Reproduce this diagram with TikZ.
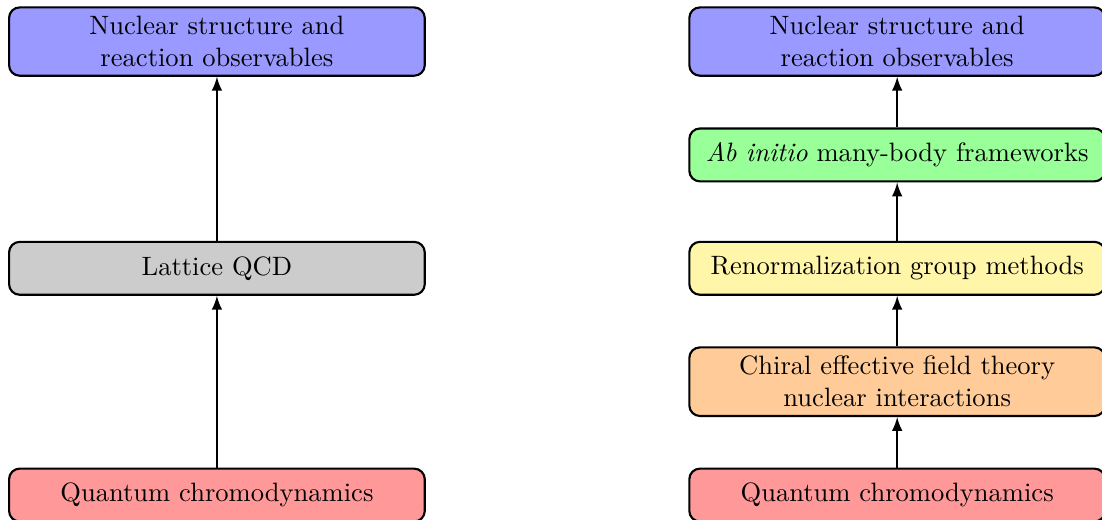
\documentclass[tikz,border=0pt]{standalone}
\usetikzlibrary{arrows}
\definecolor{rgyellow}{RGB}{255,246,170}
\tikzset{
  stage/.style={draw=black, thick, rounded corners, minimum width=5.5cm, minimum height=0.7cm, align=center},
  link/.style={thick, -latex}
}
\begin{document}
\begin{tikzpicture}
\useasboundingbox (-2.87cm,-6.318cm) rectangle (11.71cm,0.55cm);
% left column
\node[stage, fill=blue!40] (obsL) at (0,0) {Nuclear structure and\\reaction observables};
\node[stage, fill=gray!40] (lqcd) at (0,-3) {Lattice QCD};
\node[stage, fill=red!40] (qcdL) at (0,-6) {Quantum chromodynamics};
\draw[link] (qcdL) -- (lqcd);
\draw[link] (lqcd) -- (obsL);
% right column
\node[stage, fill=blue!40] (obsR) at (9,0) {Nuclear structure and\\reaction observables};
\node[stage, fill=green!40] (abin) at (9,-1.5) {\textit{Ab initio} many-body frameworks};
\node[stage, fill=rgyellow] (rg) at (9,-3) {Renormalization group methods};
\node[stage, fill=orange!40] (chi) at (9,-4.5) {Chiral effective field theory\\nuclear interactions};
\node[stage, fill=red!40] (qcdR) at (9,-6) {Quantum chromodynamics};
\draw[link] (qcdR) -- (chi);
\draw[link] (chi) -- (rg);
\draw[link] (rg) -- (abin);
\draw[link] (abin) -- (obsR);
\end{tikzpicture}
\end{document}
